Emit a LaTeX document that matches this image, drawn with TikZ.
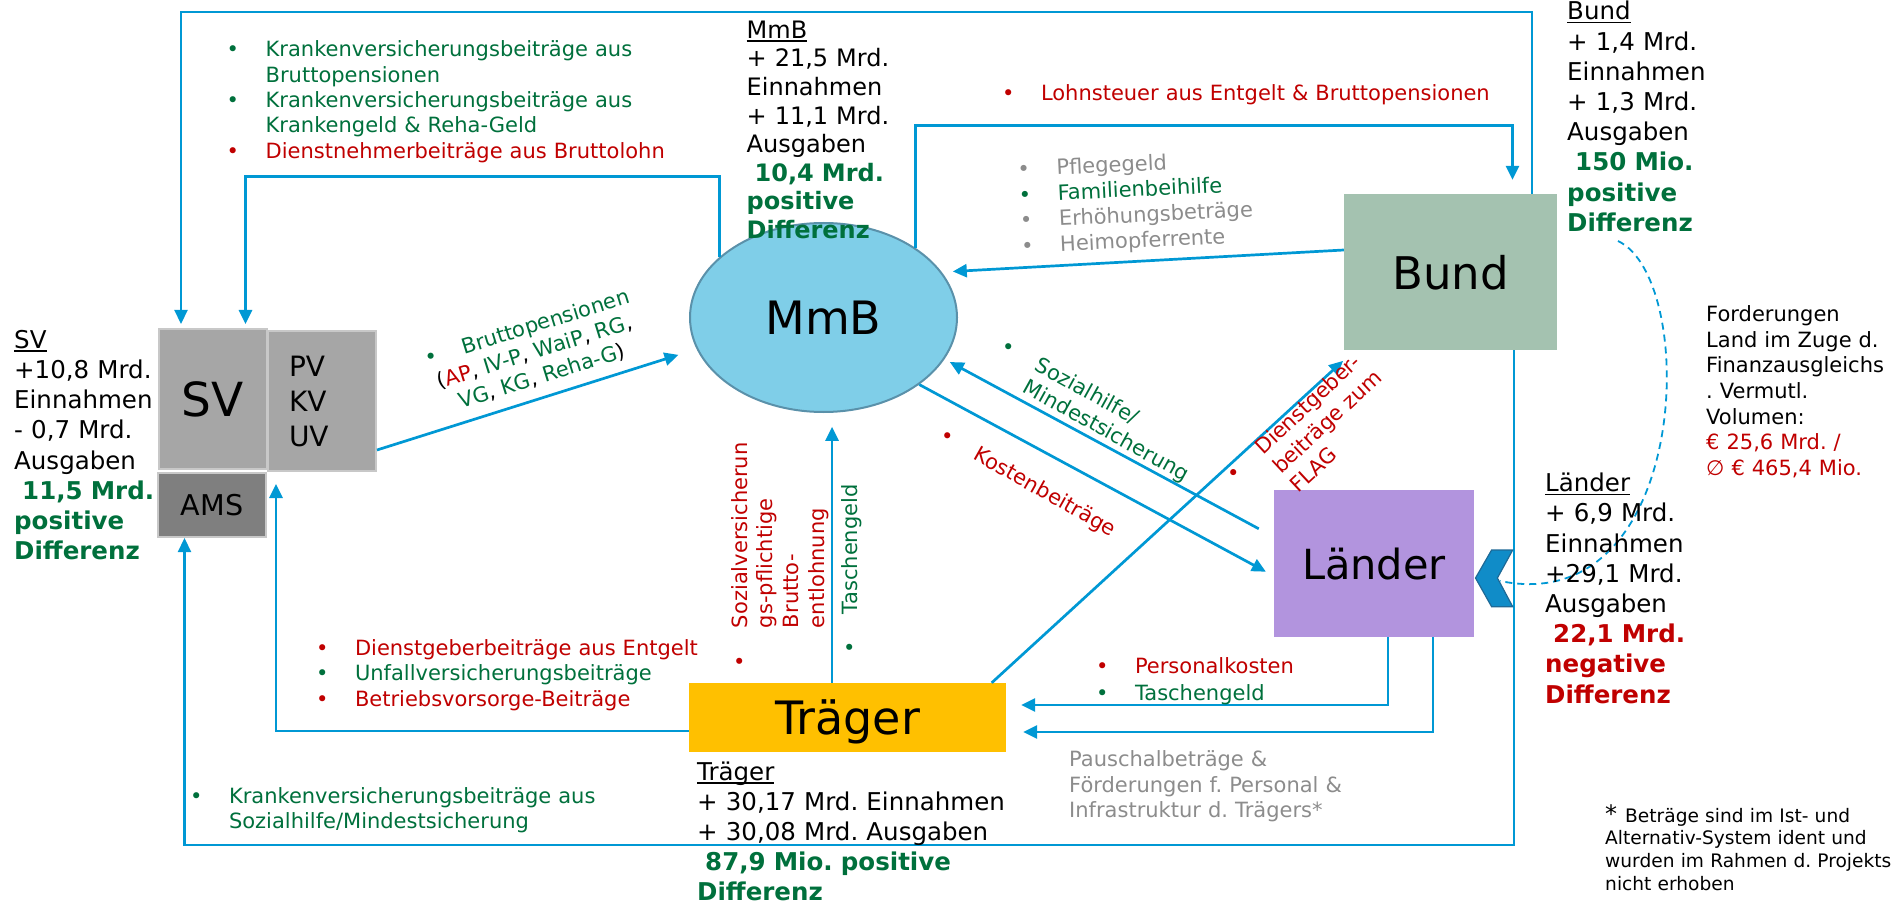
\documentclass[tikz,border=0pt]{standalone}
\usepackage{fontspec}
\setmainfont{DejaVu Sans}
\usetikzlibrary{arrows.meta,shapes.geometric}
\frenchspacing

\definecolor{flowblue}{RGB}{0,152,212}
\definecolor{txtgreen}{RGB}{0,112,60}
\definecolor{txtred}{RGB}{192,0,0}
\definecolor{txtgray}{RGB}{140,140,140}
\definecolor{svgray}{RGB}{166,166,166}
\definecolor{svedge}{RGB}{200,200,200}
\definecolor{amsgray}{RGB}{127,127,127}
\definecolor{mmbblue}{RGB}{127,206,232}
\definecolor{mmbedge}{RGB}{90,145,170}
\definecolor{bundgreen}{RGB}{164,194,176}
\definecolor{laenderlila}{RGB}{178,148,222}
\definecolor{traegergold}{RGB}{255,192,0}
\definecolor{chevblue}{RGB}{16,140,200}
\definecolor{chevedge}{RGB}{30,105,150}

% fonts
\newcommand{\lstfont}{\fontsize{21}{25.5}\selectfont}
\newcommand{\balfont}{\fontsize{24.5}{30.2}\selectfont}
% list item with hanging bullet
\newcommand{\itm}[2]{\hangindent=39pt\hangafter=1\makebox[39pt][l]{\textcolor{#1}{•}}\textcolor{#1}{#2}\par}
% underlined heading
\newcommand{\uhead}[1]{\setbox0=\hbox{#1}\rlap{\rule[-3.5pt]{\wd0}{1.4pt}}\box0}
\newcommand{\posdiff}[1]{\textcolor{txtgreen}{\bfseries #1}}
\newcommand{\negdiff}[1]{\textcolor{txtred}{\bfseries #1}}

\begin{document}
\begin{tikzpicture}[x=1pt, y=-1pt,
    box/.style={rectangle, inner sep=0pt},
    sidebox/.style={box, fill=svgray, draw=svedge, line width=2pt},
    bal/.style={anchor=base west, inner sep=0pt, text width=420pt, align=left, font=\balfont},
    lst/.style={anchor=base west, inner sep=0pt, text width=600pt, align=left, font=\lstfont},
    flow/.style={draw=flowblue, line width=2.7pt, -{Triangle[length=14pt,width=13pt]}},
    outer/.style={flow, line width=2.2pt}]
  \useasboundingbox (0,0) rectangle (1901,901);

  % Boxes
  \node[sidebox, minimum width=108, minimum height=140, font=\fontsize{47}{50}\selectfont] (sv) at (212.5,399) {SV};
  \node[sidebox, minimum width=108, minimum height=140, text width=66pt, inner xsep=21pt, align=left, font=\fontsize{28}{35}\selectfont] (pv) at (322,401) {PV\\KV\\UV};
  \node[sidebox, fill=amsgray, minimum width=108, minimum height=64, font=\fontsize{28.6}{30}\selectfont] (ams) at (212,505) {AMS};
  \node[ellipse, fill=mmbblue, draw=mmbedge, line width=2pt, minimum width=267, minimum height=189, inner sep=0pt, font=\fontsize{46}{50}\selectfont] (mmb) at (823.5,317.5) {MmB};
  \node[box, fill=bundgreen, minimum width=213, minimum height=156, text depth=0pt, font=\fontsize{45}{50}\selectfont] (bund) at (1450.5,272) {Bund};
  \node[box, fill=laenderlila, minimum width=200, minimum height=147, text depth=0pt, font=\fontsize{41.5}{45}\selectfont] (laender) at (1374,563.5) {Länder};
  \node[box, fill=traegergold, minimum width=317, minimum height=69, text depth=0pt, font=\fontsize{46}{50}\selectfont] (traeger) at (847.5,717.5) {Träger};

  % Flows
  \draw[outer, shorten >=4pt] ([xshift=81.5]bund.north) -- ++(0,-182) -| ([xshift=-31.5]sv.north);
  \draw[flow, shorten >=4pt] (mmb.150) -- ++(0,-81) -| ([xshift=33]sv.north);
  \draw[flow, shorten >=14pt] (mmb.37) -- ++(0,-122.7) -| ([xshift=62]bund.north);
  \draw[flow, shorten >=11pt] ([yshift=22]bund.west) -- (mmb.21.2);
  \draw[flow, shorten >=19pt] ([yshift=-49]pv.east) -- (mmb.194.6);
  \draw[flow, shorten >=12pt] ([yshift=-13.5]traeger.west) -| ([xshift=-46]pv.south);
  \draw[outer] ([xshift=63.5]bund.south) -- ++(0,495) -| ([xshift=-27.5]ams.south);
  \coordinate (tgfoot) at ([xshift=-15.5]traeger.north);
  \draw[flow] (tgfoot) -- ++(0,-256);
  \draw[flow, shorten >=1pt] ([xshift=-14.5]traeger.north east) -- ([yshift=-10]bund.south west);
  \draw[flow, shorten >=6pt] ([xshift=-15,yshift=-39]laender.north west) -- (mmb.-19.7);
  \draw[flow, shorten >=9pt] (mmb.-35.5) -- ([yshift=-12.5]laender.west);
  \draw[flow, shorten >=15pt] ([xshift=14]laender.south) |- ([yshift=12.5]traeger.east);
  \draw[flow, shorten >=17pt] ([xshift=59]laender.south) |- ([yshift=-14.5]traeger.east);

  % Finanzausgleich
  \coordinate (dashstart) at (1618,241);
  \coordinate (chev) at (1500,581);
  \draw[flowblue, line width=1.8pt, dash pattern=on 7pt off 5pt] (dashstart) .. controls (1700,280) and (1690,620) .. (chev);
  \filldraw[fill=chevblue, draw=chevedge, line width=1.2pt] (1491.6,550) -- (1512.7,550) -- (1497.4,578) -- (1512.7,606.7) -- (1491.6,606.7) -- (1475.5,578) -- cycle;

  % Balances
  \node[bal] (svbal) at (14,348.3) {\uhead{SV}\\+10,8 Mrd.\\Einnahmen\\- 0,7 Mrd.\\Ausgaben\\\posdiff{\hspace*{8pt}11,5 Mrd.}\\\posdiff{positive}\\\posdiff{Differenz}};
  \node[bal, font=\fontsize{24}{28.6}\selectfont] (mmbbal) at (746.5,38.3) {\uhead{MmB}\\+ 21,5 Mrd.\\Einnahmen\\+ 11,1 Mrd.\\Ausgaben\\\posdiff{\hspace*{8pt}10,4 Mrd.}\\\posdiff{positive}\\\posdiff{Differenz}};
  \node[bal] (bundbal) at (1567,20) {\uhead{Bund}\\+ 1,4 Mrd.\\Einnahmen\\+ 1,3 Mrd.\\Ausgaben\\\posdiff{\hspace*{8pt}150 Mio.}\\\posdiff{positive}\\\posdiff{Differenz}};
  \node[bal] (laenderbal) at (1545,491.7) {\uhead{Länder}\\+ 6,9 Mrd.\\Einnahmen\\+29,1 Mrd.\\Ausgaben\\\negdiff{\hspace*{8pt}22,1 Mrd.}\\\negdiff{negative}\\\negdiff{Differenz}};
  \node[bal, font=\fontsize{24.5}{30}\selectfont] (traegerbal) at (697,780) {\uhead{Träger}\\+ 30,17 Mrd. Einnahmen\\+ 30,08 Mrd. Ausgaben\\\posdiff{\hspace*{8pt}87,9 Mio. positive}\\\posdiff{Differenz}};

  % Lists
  \node[lst, font=\fontsize{21}{25.3}\selectfont] (kvtop) at (226.5,57) {\itm{txtgreen}{Krankenversicherungsbeiträge aus\newline Bruttopensionen}
    \itm{txtgreen}{Krankenversicherungsbeiträge aus\newline Krankengeld \& Reha-Geld}
    \itm{txtred}{Dienstnehmerbeiträge aus Bruttolohn}};
  \node[lst] (lohn) at (1001.8,101) {\itm{txtred}{Lohnsteuer aus Entgelt \& Bruttopensionen}};
  \node[lst, rotate=2.7, font=\fontsize{21}{25.6}\selectfont] (bundlst) at (1017.7,176.6) {\itm{txtgray}{Pflegegeld}
    \itm{txtgreen}{Familienbeihilfe}
    \itm{txtgray}{Erhöhungsbeträge}
    \itm{txtgray}{Heimopferrente}};
  \node[anchor=center, inner sep=0pt, rotate=17.2, align=center, font=\lstfont] (brutto) at (534.7,352.4)
    {\makebox[39pt][l]{\textcolor{txtgreen}{•}}\textcolor{txtgreen}{Bruttopensionen}\\
     (\textcolor{txtred}{AP}, \textcolor{txtgreen}{IV-P}, \textcolor{txtgreen}{WaiP}, \textcolor{txtgreen}{RG},\\
     \textcolor{txtgreen}{VG}, \textcolor{txtgreen}{KG}, \textcolor{txtgreen}{Reha-G})};
  \node[lst, rotate=-29, font=\fontsize{21}{25}\selectfont] (sozlbl) at (999.7,350.6) {\itm{txtgreen}{Sozialhilfe/\newline Mindestsicherung}};
  \node[lst, rotate=-29.5] (kostlbl) at (938.5,439.5) {\itm{txtred}{Kostenbeiträge}};
  \node[lst, rotate=43, font=\fontsize{21}{26}\selectfont] (flaglbl) at (1234.6,482.7) {\itm{txtred}{Dienstgeber-\newline beiträge zum\newline FLAG}};
  \node[lst, rotate=90, font=\fontsize{21}{25.8}\selectfont] (svpflicht) at (747,667.2) {\itm{txtred}{Sozialversicherun\newline gs-pflichtige\newline Brutto-\newline entlohnung}};
  \node[lst, rotate=90] (tglbl) at (857.5,653.2) {\itm{txtgreen}{Taschengeld}};
  \node[lst, font=\fontsize{21}{25.8}\selectfont] (dglst) at (315.8,655) {\itm{txtred}{Dienstgeberbeiträge aus Entgelt}
    \itm{txtgreen}{Unfallversicherungsbeiträge}
    \itm{txtred}{Betriebsvorsorge-Beiträge}};
  \node[lst, font=\fontsize{21}{26.7}\selectfont] (perslst) at (1095.8,673.3) {\itm{txtred}{Personalkosten}
    \itm{txtgreen}{Taschengeld}};
  \node[lst, font=\fontsize{21}{25}\selectfont] (kvbot) at (189.8,803.3) {\itm{txtgreen}{Krankenversicherungsbeiträge aus\newline Sozialhilfe/Mindestsicherung}};

  % Notes
  \node[lst, text=txtgray] (pauschal) at (1069,766.7) {Pauschalbeträge \&\\Förderungen f. Personal \&\\Infrastruktur d. Trägers*};
  \node[lst, font=\fontsize{21}{25.6}\selectfont] (forder) at (1706,321.7) {Forderungen\\Land im Zuge d.\\Finanzausgleichs\\. Vermutl.\\Volumen:\\\textcolor{txtred}{€ 25,6 Mrd. /}\\\textcolor{txtred}{∅ € 465,4 Mio.}};
  \node[lst, font=\fontsize{18.6}{22.7}\selectfont] (fussnote) at (1605,822) {{\fontsize{24}{22.7}\selectfont *}\hspace{8pt}Beträge sind im Ist- und\\Alternativ-System ident und\\wurden im Rahmen d. Projekts\\nicht erhoben};
\end{tikzpicture}
\end{document}
